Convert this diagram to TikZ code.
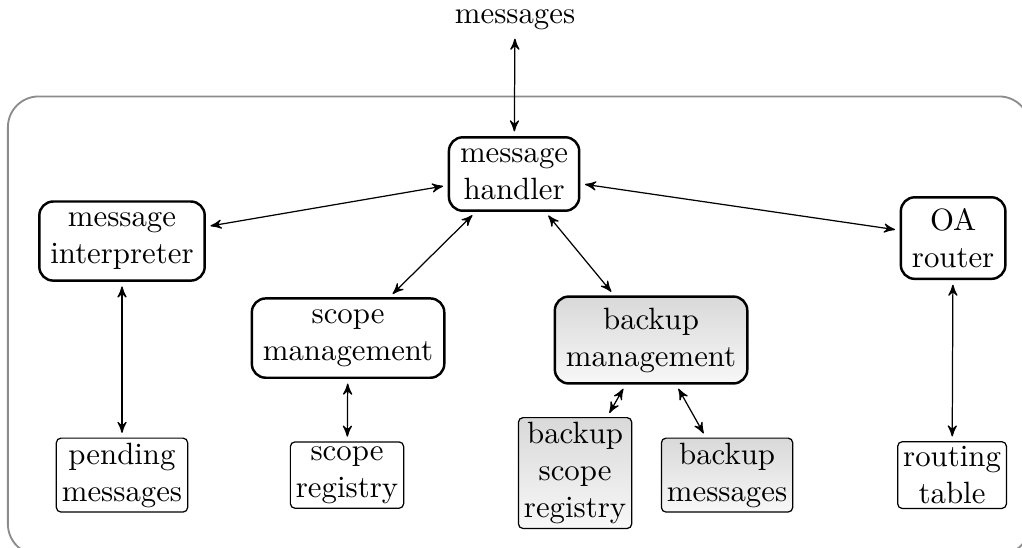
\documentclass[tikz,border=0pt]{standalone}
\usepackage{amsmath}
\usepackage[x11names, rgb]{xcolor}
\usepackage{tikz}
\usetikzlibrary{arrows,shapes,calc}

\begin{document}
\begin{tikzpicture}
\tikzset{
	module node/.style = {rectangle, rounded corners = 4.5pt, draw, thick, align = center, inner xsep = 3.6pt, inner ysep = 3.6pt},
	store node/.style = {rectangle, rounded corners = 1.5pt, draw, align = center, inner xsep = 1.8pt, inner ysep = 1.5pt},
	backup fill/.style = {top color = black!15, bottom color = black!3},
	link/.style = {<->, >=stealth', shorten < = 1.5pt, shorten > = 1.5pt}
}

\clip (0,0) rectangle (11.66,-6.25);
\draw[black!45, semithick, rounded corners = 10pt] (0.09,-1.1) rectangle (11.75,-6.33);

\node(msg)[inner sep = 1pt] at (5.876,-0.23) {messages};
\node(hdl)[module node] at (5.865,-1.985) {message\\handler};
\node(int)[module node] at (1.392,-2.75) {message\\interpreter};
\node(oar)[module node] at (10.874,-2.716) {OA\\router};
\node(scm)[module node] at (3.971,-3.857) {scope\\management};
\node(bkm)[module node, backup fill] at (7.428,-3.879) {backup\\management};
\node(pnd)[store node] at (1.392,-5.42) {pending\\messages};
\node(scr)[store node] at (3.959,-5.42) {scope\\registry};
\node(bsr)[store node, backup fill] at (6.561,-5.397) {backup\\scope\\registry};
\node(bms)[store node, backup fill] at (8.295,-5.42) {backup\\messages};
\node(rtt)[store node] at (10.862,-5.42) {routing\\table};

\draw[link] (msg) -- (hdl);
\draw[link] (hdl) -- (int);
\draw[link] (hdl) -- (oar);
\draw[link] (hdl) -- (scm);
\draw[link] (hdl) -- (bkm);
\draw[link] (int) -- (pnd);
\draw[link] (scm) -- (scr);
\draw[link] (bkm) -- (bsr);
\draw[link] (bkm) -- (bms);
\draw[link] (oar) -- (rtt);
\end{tikzpicture}
\end{document}
